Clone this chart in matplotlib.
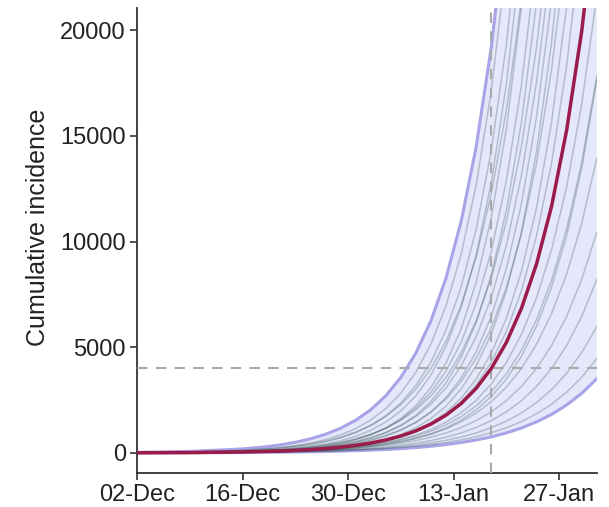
import numpy as np
import matplotlib
matplotlib.use("Agg")
import matplotlib.pyplot as plt
import matplotlib.dates as mdates

N = np.nan

# days after 02-Dec-2019
days = [0, 7, 14, 17, 19, 21, 23, 25, 27, 29, 31, 33, 35, 37, 39, 41, 43, 45, 47, 49, 51, 53, 55, 57, 59, 61]

# envelope of the simulations and the mean trajectory
upper_bound = [27, 71, 190, 288, 381, 504, 666, 884, 1167, 1544, 2043, 2702, 3576, 4732, 6260, 8284,
               10960, 14500, 19200, 25400, 33600, 44460, 58800, 77800, 103000, 136000]
lower_bound = [4.5, 9.7, 21, 29, 36, 45, 56, 70, 86, 107, 134, 166, 205, 256, 318, 397, 494, 615,
               760, 947, 1181, 1470, 1824, 2270, 2822, 3510]
mean_curve = [7.4, 18.8, 48, 72, 94, 123, 160, 209, 274, 359, 470, 613, 801, 1048, 1370, 1790, 2340,
              3060, 4000, 5230, 6840, 8940, 11680, 15280, 19970, 26100]

# single simulated runs
run_01 = [14.9, 42.6, 121, 190, 257, 347, 468, 632, 853, 1152, 1554, 2099, 2833, 3824, 5162, 6968, 9404, 12690, 17140, 23140, N, N, N, N, N, N]
run_02 = [12.4, 35.5, 101, 159, 215, 290, 391, 528, 713, 962, 1298, 1753, 2366, 3194, 4312, 5820, 7856, 10600, 14310, 19320, 26080, N, N, N, N, N]
run_03 = [8.8, 25.9, 77, 122, 167, 227, 310, 421, 576, 784, 1069, 1457, 1987, 2710, 3700, 5050, 6880, 9390, 12790, 17450, 23800, N, N, N, N, N]
run_04 = [6.0, 18.4, 56, 92, 126, 173, 239, 328, 454, 623, 858, 1181, 1626, 2240, 3097, 4264, 5870, 8086, 11140, 15340, 21120, 29090, N, N, N, N]
run_05 = [8.3, 23.6, 68, 106, 143, 193, 261, 352, 475, 642, 866, 1169, 1578, 2130, 2876, 3882, 5240, 7074, 9547, 12890, 17400, 23480, N, N, N, N]
run_06 = [5.8, 17, 51, 80, 110, 149, 204, 278, 379, 516, 703, 958, 1307, 1786, 2436, 3321, 4528, 6174, 8418, 11480, 15650, 21330, 29090, N, N, N]
run_07 = [8.0, 22.3, 61, 95, 127, 169, 227, 303, 405, 541, 723, 966, 1291, 1725, 2305, 3081, 4118, 5503, 7354, 9828, 13130, 17550, 23460, N, N, N]
run_08 = [5.6, 16, 46, 72, 97, 131, 177, 238, 322, 434, 586, 791, 1069, 1442, 1947, 2628, 3548, 4789, 6464, 8726, 11780, 15900, 21460, 28970, N, N]
run_09 = [3.9, 11.4, 34, 54, 73, 100, 136, 186, 254, 345, 471, 642, 875, 1193, 1627, 2219, 3026, 4126, 5626, 7670, 10460, 14260, 19440, 26500, N, N]
run_10 = [4.1, 11.7, 33, 52, 71, 95, 129, 174, 235, 317, 428, 578, 780, 1053, 1421, 1918, 2589, 3495, 4718, 6369, 8597, 11600, 15660, 21140, 28540, N]
run_11 = [5.7, 14.8, 38, 57, 75, 98, 128, 168, 220, 288, 377, 494, 647, 848, 1111, 1455, 1904, 2493, 3265, 4280, 5608, 7346, 9622, 12600, 16510, 21630]
run_12 = [6.4, 15.9, 39, 59, 76, 98, 128, 166, 215, 279, 361, 468, 607, 788, 1022, 1325, 1718, 2228, 2890, 3748, 4861, 6305, 8177, 10600, 13750, 17840]
run_13 = [6.8, 16.3, 39, 57, 73, 94, 121, 155, 199, 256, 328, 422, 541, 695, 893, 1146, 1472, 1889, 2426, 3115, 4000, 5136, 6595, 8468, 10870, 13960]
run_14 = [6.9, 16, 37, 53, 68, 86, 109, 139, 177, 224, 286, 363, 461, 586, 746, 947, 1205, 1531, 1947, 2475, 3147, 4000, 5085, 6464, 8217, 10450]
run_15 = [5.4, 12.6, 29, 42, 53, 68, 86, 109, 139, 177, 224, 286, 363, 461, 586, 746, 947, 1205, 1531, 1947, 2475, 3147, 4000, 5085, 6464, 8217]
run_16 = [5.4, 12, 27, 38, 48, 60, 76, 95, 120, 151, 190, 239, 300, 378, 476, 600, 754, 949, 1195, 1505, 1894, 2383, 2999, 3775, 4754, 5985]
run_17 = [5.4, 11.7, 25, 35, 44, 55, 68, 85, 106, 132, 165, 205, 256, 318, 397, 494, 616, 768, 957, 1192, 1486, 1853, 2308, 2876, 3583, 4465]
run_18 = [17, 45, 121, 184, 243, 321, 426, 563, 746, 986, 1305, 1727, 2285, 3023, 4000, 5293, 7003, 9265, 12260, 16220, 21460, 28400, N, N, N, N]
run_19 = [11.5, 30.7, 82, 124, 164, 218, 288, 381, 504, 668, 884, 1169, 1544, 2043, 2703, 3576, 4732, 6261, 8284, 10960, 14500, 19190, 25390, N, N, N]
run_20 = [8.2, 21.9, 58, 89, 118, 155, 206, 271, 360, 476, 630, 833, 1101, 1457, 1931, 2556, 3382, 4474, 5920, 7832, 10360, 13710, 18140, 24010, N, N]
run_21 = [4.7, 13, 36, 56, 74, 99, 132, 177, 237, 316, 422, 564, 753, 1006, 1345, 1801, 2407, 3216, 4301, 5748, 7682, 10270, 13720, 18340, 24510, N]
run_22 = [4.7, 12, 31, 46, 61, 79, 105, 136, 179, 234, 307, 401, 526, 689, 902, 1181, 1555, 2036, 2668, 3495, 4578, 5997, 7856, 10290, 13480, 17660]

runs = [run_01, run_02, run_03, run_04, run_05, run_06, run_07, run_08, run_09, run_10, run_11,
        run_12, run_13, run_14, run_15, run_16, run_17, run_18, run_19, run_20, run_21, run_22]

threshold = 4000
threshold_date = np.datetime64("2020-01-18")
tick_dates = ["2019-12-02", "2019-12-16", "2019-12-30", "2020-01-13", "2020-01-27"]
y_ticks = [0, 5000, 10000, 15000, 20000]

plt.rcParams["font.family"] = ["Liberation Sans", "DejaVu Sans"]

dates = np.datetime64("2019-12-02") + np.array(days, dtype="timedelta64[D]")

fig = plt.figure(figsize=(6.09, 5.07), dpi=100)
ax = fig.add_axes([0.225, 0.067, 0.755, 0.917])

# band
ax.fill_between(dates, lower_bound, upper_bound, color="#e5e7fb", lw=0, zorder=1)
ax.plot(dates, upper_bound, color="#a9a3e8", lw=2.2, zorder=2)
ax.plot(dates, lower_bound, color="#a9a3e8", lw=2.2, zorder=2)

# runs
for r in runs:
    ax.plot(dates, r, color="#2f4f4f", alpha=0.28, lw=1.1, zorder=3)

# reference lines
ax.axhline(threshold, color="#a9a9a9", ls=(0, (5, 4)), lw=1.5, zorder=4)
ax.axvline(threshold_date, color="#a9a9a9", ls=(0, (5, 4)), lw=1.5, zorder=4)

ax.plot(dates, mean_curve, color="#9b1b4b", lw=2.5, zorder=5)

ax.set_xlim(dates[0], dates[-1])
ax.set_ylim(-950, 21050)
ax.set_xticks([np.datetime64(d) for d in tick_dates])
ax.xaxis.set_major_formatter(mdates.DateFormatter("%d-%b"))
ax.set_yticks(y_ticks)

for s in ["top", "right"]:
    ax.spines[s].set_visible(False)
for s in ["left", "bottom"]:
    ax.spines[s].set_linewidth(1.3)
    ax.spines[s].set_color("#333333")

ax.tick_params(labelsize=17, length=5, width=1.2, color="#333333", pad=3, labelcolor="#222222")
ax.set_ylabel("Cumulative incidence", fontsize=18, color="#222222")
ax.yaxis.set_label_coords(-0.19, 0.528)

fig.savefig("out.png", dpi=100)
